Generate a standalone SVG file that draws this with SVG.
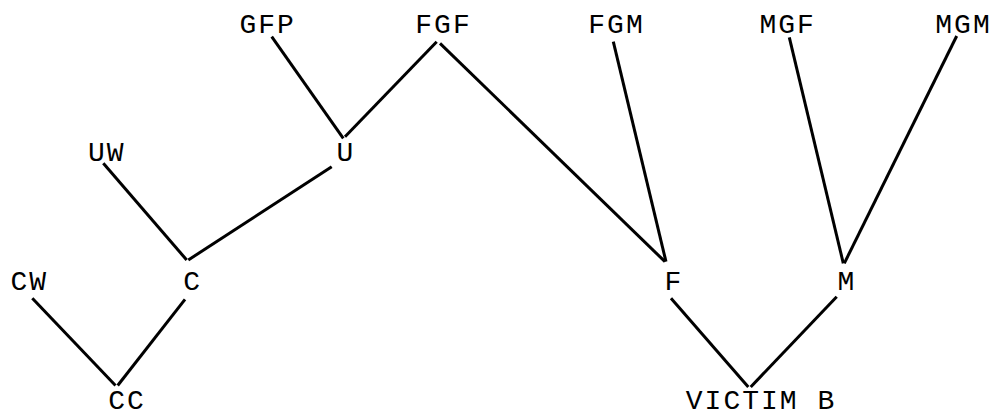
<svg xmlns="http://www.w3.org/2000/svg" width="994" height="417" viewBox="0 0 994 417">
<style>
  .lbl { font-family: "Liberation Mono", "DejaVu Sans Mono", monospace; font-size: 28px; letter-spacing: 2px; fill: #000; text-anchor: middle; }
  .edge { stroke: #000; stroke-width: 3; stroke-linecap: butt; fill: none; }
</style>
<rect width="994" height="417" fill="#fff"/>
<g id="connectors">
  <line class="edge" x1="271.7" y1="36.7" x2="343.3" y2="138.3"/>
  <line class="edge" x1="436.7" y1="41.7" x2="345" y2="136.7"/>
  <line class="edge" x1="440" y1="43.3" x2="665" y2="261.7"/>
  <line class="edge" x1="613.3" y1="41.7" x2="666" y2="261.7"/>
  <line class="edge" x1="789.3" y1="37.3" x2="843.3" y2="263.3"/>
  <line class="edge" x1="956.7" y1="36" x2="844.3" y2="263.3"/>
  <line class="edge" x1="103.3" y1="163.3" x2="186.7" y2="260"/>
  <line class="edge" x1="331.7" y1="166.7" x2="188.3" y2="260"/>
  <line class="edge" x1="32.3" y1="298.3" x2="115.5" y2="385.5"/>
  <line class="edge" x1="185" y1="299.3" x2="117.7" y2="385.5"/>
  <line class="edge" x1="671" y1="298.3" x2="748.3" y2="387"/>
  <line class="edge" x1="836.7" y1="296.7" x2="750.7" y2="387"/>
</g>
<g id="GFP"><text class="lbl" x="267.7" y="33">GFP</text></g>
<g id="FGF"><text class="lbl" x="443.5" y="33">FGF</text></g>
<g id="FGM"><text class="lbl" x="616.5" y="33">FGM</text></g>
<g id="MGF"><text class="lbl" x="787.7" y="33">MGF</text></g>
<g id="MGM"><text class="lbl" x="963.5" y="33">MGM</text></g>
<g id="UW"><text class="lbl" x="106.8" y="161">UW</text></g>
<g id="U"><text class="lbl" x="346" y="161">U</text></g>
<g id="CW"><text class="lbl" x="29.3" y="290">CW</text></g>
<g id="C"><text class="lbl" x="192.7" y="290">C</text></g>
<g id="F"><text class="lbl" x="674" y="290">F</text></g>
<g id="M"><text class="lbl" x="847" y="290">M</text></g>
<g id="CC"><text class="lbl" x="127" y="409">CC</text></g>
<g id="VICTIM_B"><text class="lbl" x="761" y="409">VICTIM B</text></g>
</svg>
